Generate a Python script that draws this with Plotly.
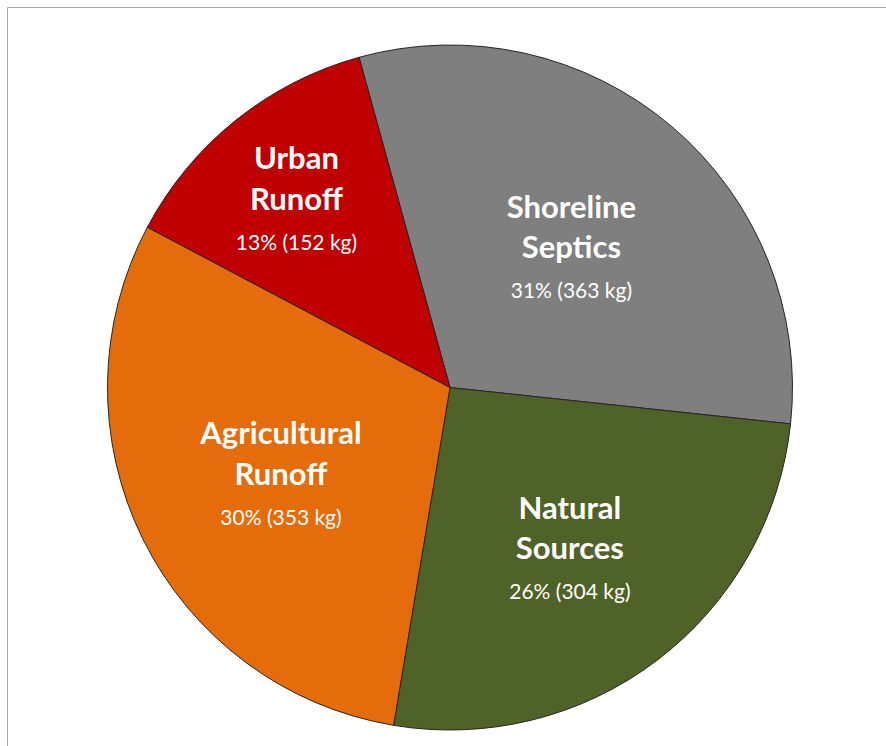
import plotly.graph_objects as go

labels = ["Shoreline<br>Septics", "Natural<br>Sources", "Agricultural<br>Runoff", "Urban<br>Runoff"]
values = [363, 304, 353, 152]
colors = ["#7F7F7F", "#4F6228", "#E46C0A", "#C00000"]

W, H = 886, 746
fig = go.Figure(go.Pie(
    labels=labels, values=values, sort=False, direction="clockwise", rotation=-15.4,
    marker=dict(colors=colors, line=dict(color="#262626", width=1)),
    texttemplate="<b>%{label}</b><br><span style='font-size:21px'>%{percent:.0%} (%{value} kg)</span>",
    textposition="inside", insidetextorientation="horizontal",
    textfont=dict(family="Lato", size=31, color="white"),
    showlegend=False, hoverinfo="skip",
    domain=dict(x=[105/W, 795/W], y=[1-730/H, 1-45/H]),
))
fig.add_shape(type="rect", xref="paper", yref="paper", x0=7.5/W, y0=-0.1, x1=1.1, y1=1-7.5/H,
              line=dict(color="#A6A6A6", width=1))
fig.update_layout(width=W, height=H, margin=dict(l=0, r=0, t=0, b=0),
                  paper_bgcolor="white", plot_bgcolor="white")
fig.write_html("out.html", config={"displayModeBar": False},
               post_script="document.body.style.margin='0';document.body.style.overflow='hidden';")
